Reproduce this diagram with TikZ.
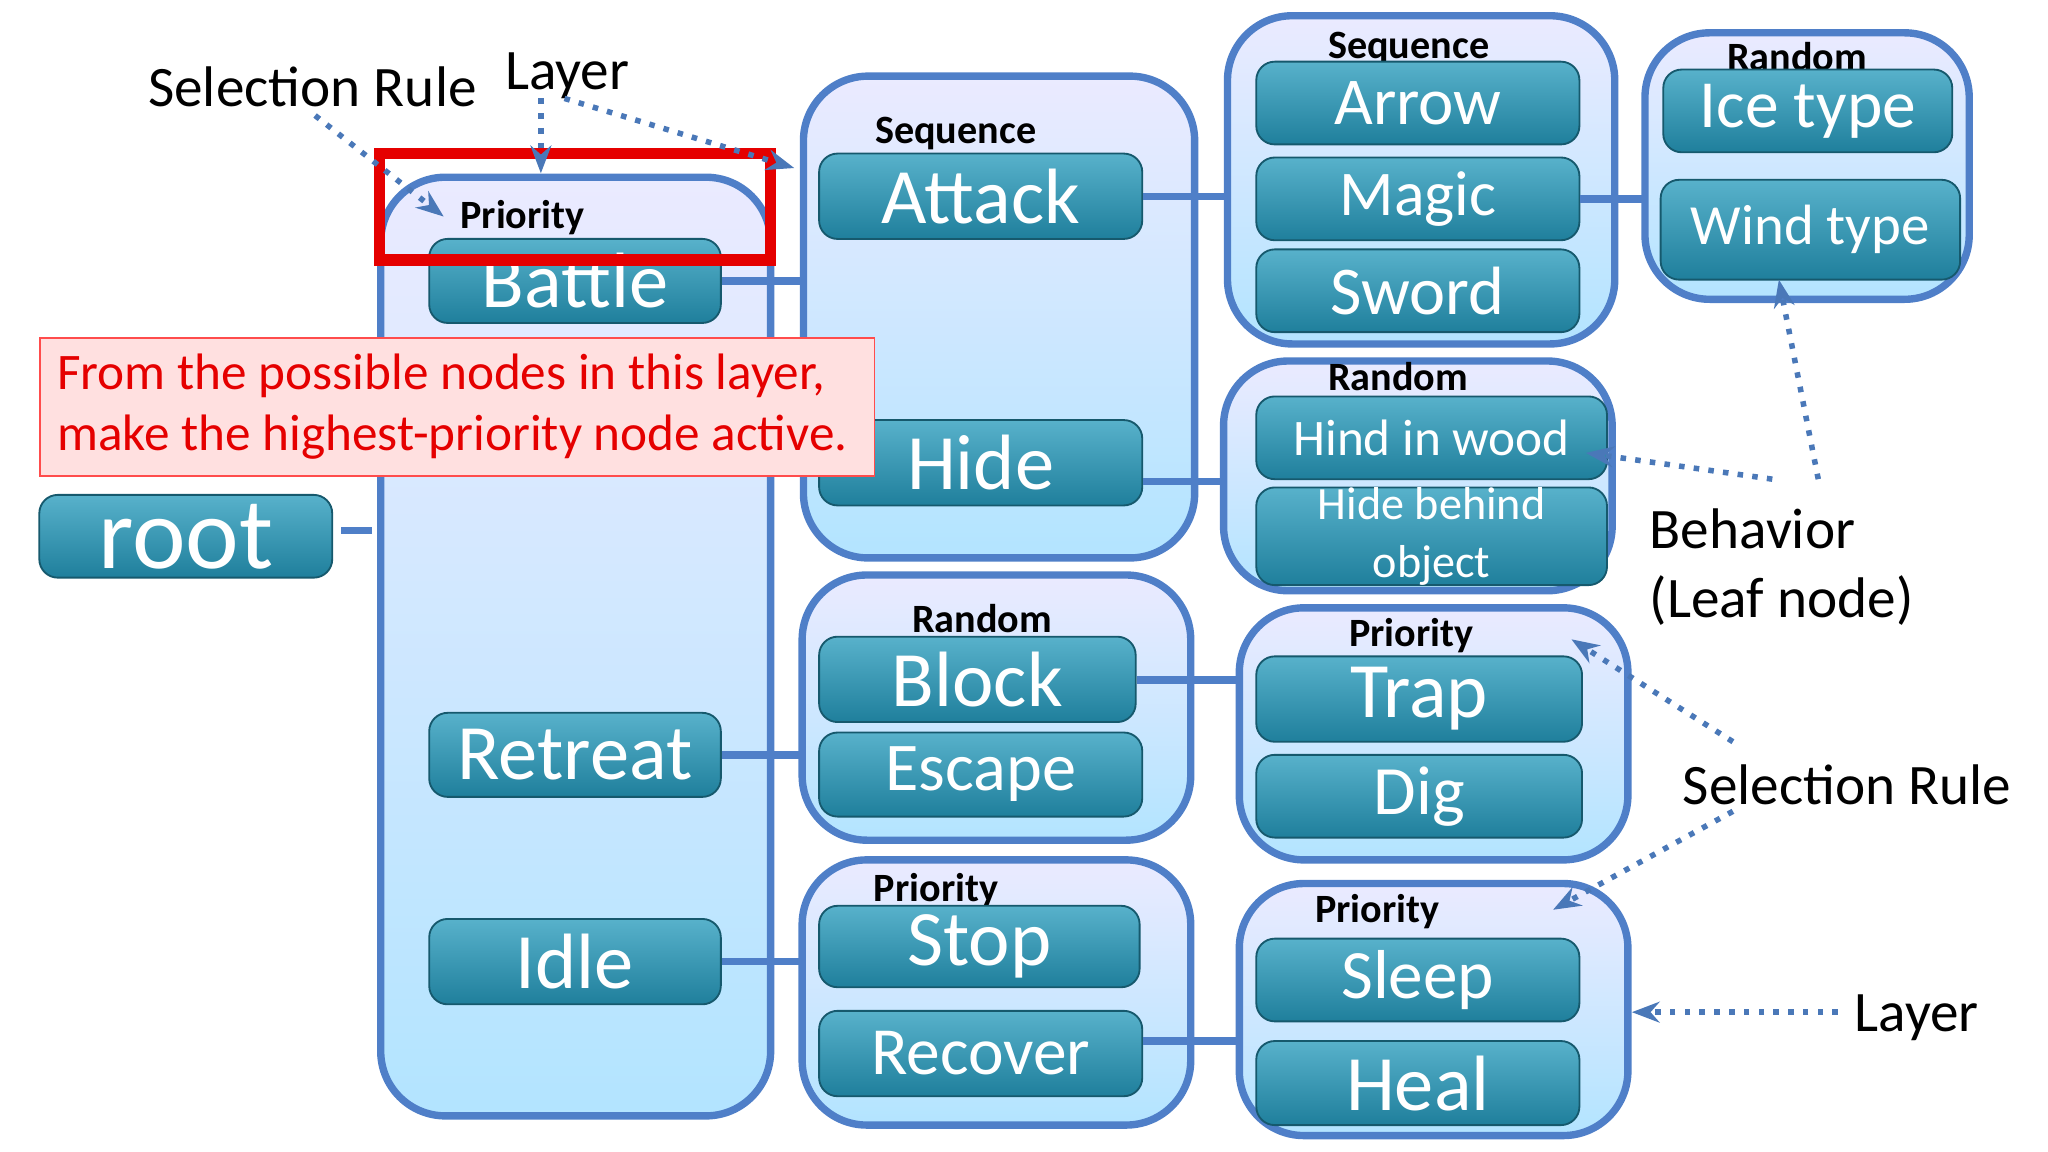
\documentclass[tikz,border=0pt]{standalone}
\usepackage{fontspec}
\setmainfont{Carlito}
\usetikzlibrary{arrows.meta}
\definecolor{btn}{HTML}{2E9EBE}
\definecolor{btnd}{HTML}{1F7F9C}
\definecolor{lay}{HTML}{4F7FC8}
\definecolor{ann}{HTML}{4A78B8}
\begin{document}
\begin{tikzpicture}[x=0.01cm,y=-0.01cm,
 layer/.style={draw=lay,line width=1.6pt,rounded corners=14pt,top color=blue!8!white,bottom color=blue!35!cyan!30!white},
 btnst/.style={rounded corners=4pt,top color=btn!80!white,bottom color=btnd,draw=btnd!70!black,line width=0.4pt,text=white,inner sep=0pt,font=\fontsize{17}{17}\selectfont},
 ttl/.style={font=\bfseries\fontsize{8.7}{9}\selectfont,inner sep=0pt},
 con/.style={draw=lay,line width=1.6pt},
 ann/.style={font=\fontsize{12.4}{15}\selectfont,inner sep=0pt},
 darr/.style={draw=ann,line width=1.2pt,dotted,-{Stealth[open,length=6pt]}}]
\useasboundingbox (0,0) rectangle (1560,877);
% layers
\path[layer] (290,135) rectangle (587,850); \node[coordinate](L0) at (290,404){};
\path[layer] (612,58) rectangle (910,425); \node[coordinate](L1) at (612,209){};
\path[layer] (935,12) rectangle (1230,262); \node[coordinate](L2) at (935,145){};
\path[layer] (1253,25) rectangle (1500,228); \node[coordinate](L3) at (1253,143){};
\path[layer] (932,275) rectangle (1228,450); \node[coordinate](L4) at (932,367){};
\path[layer] (611,438) rectangle (907,640); \node[coordinate](L5) at (611,570){};
\path[layer] (944,463) rectangle (1240,655); \node[coordinate](L6) at (944,518){};
\path[layer] (611,655) rectangle (907,857); \node[coordinate](L7) at (611,733){};
\path[layer] (944,673) rectangle (1240,865); \node[coordinate](L8) at (944,793){};
\node[coordinate](L8e) at (1243,771){};
% titles
\node[ttl] (t0) at (398,166) {Priority};
\node[ttl] (t1) at (728,102) {Sequence};
\node[ttl] (t2) at (1073,37) {Sequence};
\node[ttl] (t3) at (1369,43) {Random};
\node[ttl] (t4) at (1065,287) {Random};
\node[ttl] (t5) at (748,471) {Random};
\node[ttl] (t6) at (1075,484) {Priority};
\node[ttl] (t7) at (713,678) {Priority};
\node[ttl] (t8) at (1049,694) {Priority};
% buttons
\node[btnst,minimum width=2.23cm,minimum height=0.63cm,font=\fontsize{22}{22}\selectfont] (root) at (141.5,408.5) {root};
\node[btnst,minimum width=2.22cm,minimum height=0.64cm] (battle) at (438,214) {Battle};
\node[btnst,minimum width=2.22cm,minimum height=0.64cm] (retreat) at (438,575) {Retreat};
\node[btnst,minimum width=2.22cm,minimum height=0.65cm] (idle) at (438,732.5) {Idle};
\node[btnst,minimum width=2.46cm,minimum height=0.65cm] (attack) at (747,149.5) {Attack};
\node[btnst,minimum width=2.46cm,minimum height=0.65cm] (hide) at (747,352.5) {Hide};
\node[btnst,minimum width=2.46cm,minimum height=0.63cm,font=\fontsize{14.5}{15}\selectfont] (arrow) at (1080,78.5) {Arrow};
\node[btnst,minimum width=2.46cm,minimum height=0.63cm,font=\fontsize{13.8}{14}\selectfont] (magic) at (1080,151.5) {Magic};
\node[btnst,minimum width=2.46cm,minimum height=0.63cm,font=\fontsize{14.8}{15}\selectfont] (sword) at (1080,221.5) {Sword};
\node[btnst,minimum width=2.20cm,minimum height=0.63cm,font=\fontsize{14.6}{15}\selectfont] (ice) at (1377,84.5) {Ice type};
\node[btnst,minimum width=2.28cm,minimum height=0.76cm,font=\fontsize{12.3}{13}\selectfont] (wind) at (1379,175) {Wind type};
\node[btnst,minimum width=2.67cm,minimum height=0.63cm,font=\fontsize{11.1}{12}\selectfont] (hind) at (1090.5,333.5) {Hind in wood};
\node[btnst,minimum width=2.67cm,minimum height=0.73cm,align=center,font=\fontsize{10}{12.5}\selectfont] (behind) at (1090.5,408.5) {Hide behind\\object};
\node[btnst,minimum width=2.41cm,minimum height=0.65cm] (block) at (744.5,517.5) {Block};
\node[btnst,minimum width=2.46cm,minimum height=0.64cm,font=\fontsize{14.8}{15}\selectfont] (escape) at (747,590) {Escape};
\node[btnst,minimum width=2.48cm,minimum height=0.65cm] (trap) at (1081,532.5) {Trap};
\node[btnst,minimum width=2.48cm,minimum height=0.63cm,font=\fontsize{15}{15}\selectfont] (dig) at (1081,606.5) {Dig};
\node[btnst,minimum width=2.44cm,minimum height=0.62cm] (stop) at (746,721) {Stop};
\node[btnst,minimum width=2.46cm,minimum height=0.65cm,font=\fontsize{14.6}{15}\selectfont] (recover) at (747,802.5) {Recover};
\node[btnst,minimum width=2.46cm,minimum height=0.63cm,font=\fontsize{15}{15}\selectfont] (sleep) at (1080,746.5) {Sleep};
\node[btnst,minimum width=2.46cm,minimum height=0.64cm] (heal) at (1080,825) {Heal};
% connectors
\coordinate (rs) at (260,404);
\path[con] (rs) -- (283,404);
\path[con] (battle.east) -- (battle.east-|L1);
\path[con] (attack.east) -- (attack.east-|L2);
\path[con] (magic.east) -- (magic.east-|L3);
\path[con] (hide.east|-L4) -- (L4);
\path[con] (retreat.east) -- (retreat.east-|L5);
\path[con] (block.east|-L6) -- (L6);
\path[con] (idle.east) -- (idle.east-|L7);
\path[con] (recover.east|-L8) -- (L8);
% red highlight
\draw[red!90!black,line width=2.5pt] (289,117) rectangle (587,198);
\node[draw=red!70,fill=red!12,minimum width=6.35cm,minimum height=1.05cm,anchor=north west,inner sep=0pt] (note) at (30,257) {};
\node[anchor=west,align=left,text=red!90!black,font=\fontsize{11.1}{13.2}\selectfont,inner sep=0pt] (notet) at (43,310) {From the possible nodes in this layer,\\make the highest-priority node active.};
% annotations
\node[ann] (sr1) at (238,66) {Selection Rule};
\node[ann] (ly1) at (432,58) {Layer};
\node[ann,align=left,anchor=west] (beh) at (1256,432) {Behavior\\(Leaf node)};
\node[ann] (sr2) at (1407,598) {Selection Rule};
\node[ann] (ly2) at (1460,775) {Layer};
\coordinate (a1) at (240,88); \coordinate (a1e) at (338,165);
\coordinate (a2) at (412,75); \coordinate (a2e) at (412,132);
\coordinate (a3) at (430,75); \coordinate (a3e) at (605,128);
\coordinate (b1) at (1350,365); \coordinate (b1e) at (1208,345);
\coordinate (b2) at (1385,365); \coordinate (b2e) at (1355,213);
\coordinate (c1) at (1320,565); \coordinate (c1e) at (1197,487);
\coordinate (c2) at (1320,618); \coordinate (c2e) at (1183,693);
\coordinate (d1) at (1400,771);
\path[darr] (a1) -- (a1e);
\path[darr] (a2) -- (a2e);
\path[darr] (a3) -- (a3e);
\path[darr] (b1) -- (b1e);
\path[darr] (b2) -- (b2e);
\path[darr] (c1) -- (c1e);
\path[darr] (c2) -- (c2e);
\path[darr] (d1) -- (L8e);
\end{tikzpicture}
\end{document}
